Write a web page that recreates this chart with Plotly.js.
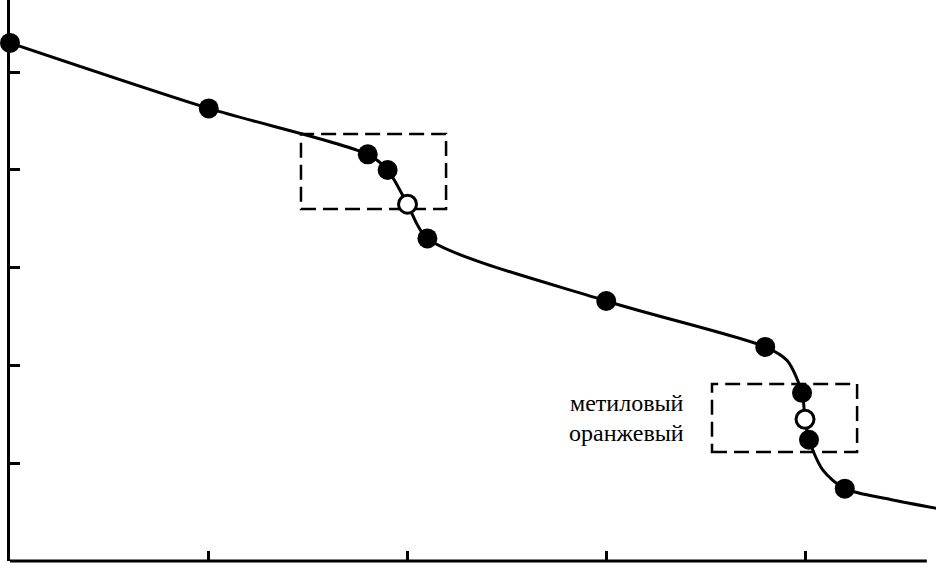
<!DOCTYPE html>
<html>
<head>
<meta charset="utf-8">
<script src="https://cdn.plot.ly/plotly-3.0.1.min.js"></script>
<style>html,body{margin:0;padding:0;background:#fff;}#chart{width:936px;height:563px;}</style>
</head>
<body>
<div id="chart"></div>
<script>
// Titration curve
const curveX = [0, 1.0, 1.80, 1.90, 2.0, 2.10, 3.0, 3.80, 3.91, 3.985, 4.0, 4.02, 4.09, 4.20, 4.43, 4.66];
const curveY = [5.30, 4.63, 4.16, 4.00, 3.65, 3.30, 2.66, 2.19, 2.05, 1.72, 1.45, 1.24, 0.93, 0.74, 0.63, 0.54];

const filledX = [0, 1.0, 1.80, 1.90, 2.10, 3.0, 3.80, 3.985, 4.02, 4.20];
const filledY = [5.30, 4.63, 4.16, 4.00, 3.30, 2.66, 2.19, 1.72, 1.24, 0.74];

const openX = [2.0, 4.0];
const openY = [3.65, 1.45];

const xTicks = [1, 2, 3, 4];
const yTicks = [1, 2, 3, 4, 5];
const labelLines = ["метиловый", "оранжевый"];

const xMax = 4.659, yMax = 5.739, xAxisEnd = 4.613;

const traces = [
  {x: curveX, y: curveY, mode: 'lines', line: {color: '#000', width: 3, shape: 'spline', smoothing: 0.8}, hoverinfo: 'skip', cliponaxis: false},
  {x: filledX, y: filledY, mode: 'markers', marker: {color: '#000', size: 20}, cliponaxis: false},
  {x: openX, y: openY, mode: 'markers', marker: {color: '#fff', size: 18, line: {color: '#000', width: 3}}, cliponaxis: false}
];

const dashStyle = {color: '#000', width: 2.5, dash: '15px,7px'};
const labelFont = {family: 'Liberation Serif, Times New Roman, serif', size: 24, color: '#000'};
const layout = {
  width: 936, height: 563,
  margin: {l: 10, r: 0, t: 0, b: 2},
  paper_bgcolor: '#fff', plot_bgcolor: '#fff',
  showlegend: false,
  xaxis: {range: [0, xMax], tickvals: xTicks, ticks: 'inside', ticklen: 10, tickwidth: 3, tickcolor: '#000',
          showticklabels: false, showgrid: false, zeroline: false, showline: false},
  yaxis: {range: [0, yMax], tickvals: yTicks, ticks: 'inside', ticklen: 10, tickwidth: 3, tickcolor: '#000',
          showticklabels: false, showgrid: false, zeroline: false, showline: true, linecolor: '#000', linewidth: 3},
  shapes: [
    {type: 'line', xref: 'paper', yref: 'paper', x0: 0, x1: xAxisEnd / xMax, y0: 0, y1: 0, line: {color: '#000', width: 3}},
    {type: 'rect', xref: 'x', yref: 'y', x0: 1.464, x1: 2.194, y0: 3.601, y1: 4.368, line: dashStyle, layer: 'below'},
    {type: 'rect', xref: 'x', yref: 'y', x0: 3.532, x1: 4.262, y0: 1.115, y1: 1.811, line: dashStyle, layer: 'below'}
  ],
  annotations: [
    {x: 3.401, y: 1.616, xref: 'x', yref: 'y', text: labelLines[0], showarrow: false, xanchor: 'right', yanchor: 'middle', font: labelFont},
    {x: 3.401, y: 1.309, xref: 'x', yref: 'y', text: labelLines[1], showarrow: false, xanchor: 'right', yanchor: 'middle', font: labelFont}
  ]
};

Plotly.newPlot('chart', traces, layout, {displayModeBar: false, staticPlot: true});
</script>
</body>
</html>
